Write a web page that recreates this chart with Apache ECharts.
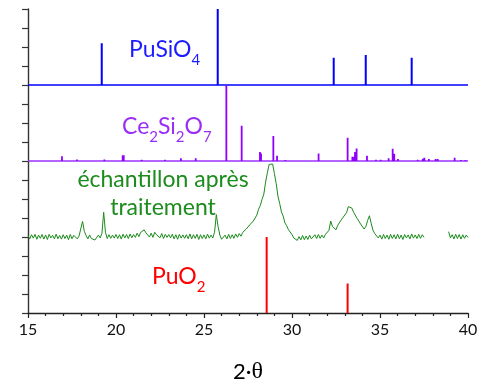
<!DOCTYPE html>
<html>
<head>
<meta charset="utf-8">
<script src="https://cdn.jsdelivr.net/npm/echarts@6/dist/echarts.min.js"></script>
<style>
  html, body { margin: 0; padding: 0; background: #fff; }
  #chart { width: 481px; height: 382px; }
</style>
</head>
<body>
<div id="chart"></div>
<script>
// reference patterns, [2theta, relative intensity] — each phase sits on its own offset
var puSiO4Peaks = [[19.19, 2.2], [25.78, 4.0], [32.37, 1.44], [34.19, 1.58], [36.8, 1.44]]
var ce2Si2O7Peaks = [
  [16.93, 0.25], [17.78, 0.08], [19.34, 0.08], [20.38, 0.3], [20.44, 0.3],
  [21.46, 0.06], [22.78, 0.06], [23.69, 0.15], [24.53, 0.15], [26.27, 4.0],
  [27.14, 1.86], [28.18, 0.47], [28.24, 0.4], [28.94, 1.32], [29.15, 0.28],
  [29.62, 0.05], [31.51, 0.39], [33.16, 1.23], [33.43, 0.23], [33.51, 0.23],
  [33.58, 0.47], [33.67, 0.66], [34.26, 0.28], [34.77, 0.07], [35.04, 0.07],
  [35.49, 0.14], [35.72, 0.65], [35.81, 0.38], [36.02, 0.1], [37.14, 0.07],
  [37.43, 0.12], [37.52, 0.17], [37.78, 0.1], [38.16, 0.1], [38.28, 0.1],
  [39.24, 0.17], [39.6, 0.05], [39.85, 0.05]
]
var puO2Peaks = [[28.56, 4.0], [33.16, 1.55]]

// baselines of the stacked patterns
var puSiO4Base = 12
var ce2Si2O7Base = 8
var puO2Base = 0

// measured pattern, 2theta from 15.0 to 40.0 by 0.1 (null = no data)
var sampleStart = 15.0
var sampleStep = 0.1
var sampleY = [
  4.08, 3.90, 4.12, 3.94, 4.14, 3.88, 4.10, 3.93, 4.13, 3.89,
  4.11, 3.87, 4.14, 3.95, 4.09, 3.90, 4.15, 3.91, 4.08, 3.89,
  4.12, 3.92, 4.10, 3.86, 4.13, 3.91, 4.09, 4.14, 3.90, 4.05,
  4.15, 4.82, 4.30, 4.08, 3.90, 4.11, 3.92, 3.86, 3.84, 3.76,
  4.10, 3.95, 4.18, 5.30, 4.25, 3.92, 4.12, 3.93, 4.10, 3.94,
  4.13, 3.92, 4.12, 3.89, 4.15, 3.95, 4.13, 3.92, 4.16, 3.96,
  4.13, 3.98, 4.20, 4.02, 4.24, 4.15, 4.38, 4.22, 4.28, 4.00,
  4.20, 3.98, 4.25, 4.12, 4.20, 3.96, 4.18, 3.92, 4.14, 3.98,
  4.13, 3.95, 4.15, 3.90, 4.12, 3.88, 4.14, 3.94, 4.11, 3.93,
  4.12, 3.91, 4.16, 3.90, 4.12, 3.93, 4.14, 3.87, 4.12, 3.92,
  4.11, 3.90, 4.15, 3.94, 4.10, 3.95, 4.25, 5.18, 4.55, 4.10,
  3.88, 3.82, 4.10, 3.90, 4.14, 3.92, 4.12, 3.93, 4.16, 3.98,
  4.18, 4.04, 4.24, 4.22, 4.42, 4.38, 4.64, 4.64, 4.84, 4.92,
  5.15, 5.46, 5.66, 5.99, 6.26, 6.89, 7.38, 7.82, 7.92, 7.84,
  7.34, 6.82, 6.16, 5.76, 5.32, 5.10, 4.74, 4.59, 4.38, 4.32,
  4.13, 3.95, 3.90, 3.82, 4.02, 3.85, 4.08, 3.86, 4.05, 3.87,
  4.10, 3.90, 3.86, 4.12, 3.92, 4.13, 3.93, 4.10, 3.95, 4.14,
  4.18, 4.35, 4.84, 4.55, 4.50, 4.38, 4.62, 4.66, 4.90, 4.94,
  5.16, 5.28, 5.60, 5.70, 5.52, 5.30, 5.26, 4.98, 4.92, 4.68,
  4.62, 4.42, 4.56, 4.88, 5.12, 4.72, 4.36, 4.18, 4.08, 3.95,
  4.10, 3.89, 4.13, 3.92, 4.10, 3.88, 4.14, 3.92, 4.12, 3.90,
  4.15, 3.91, 4.10, 3.87, 4.13, 3.95, 4.11, 3.90, 4.16, 3.94,
  4.11, 3.92, 4.14, 3.93, 4.12, 3.98, null, null, null, null,
  null, null, null, null, null, null, null, null, null, 4.28,
  3.95, 4.12, 3.90, 4.14, 3.92, 4.13, 3.89, 4.12, 3.93, 4.10,
  3.98
]

var xTicks = [15, 20, 25, 30, 35, 40]

// vertical sticks, broken with nulls so each peak is its own segment
function sticks(peaks, base) {
  var out = []
  peaks.forEach(function (p) {
    out.push([p[0], base], [p[0], base + p[1]], [p[0], null])
  })
  return out
}

function baseline(base) {
  return [[xTicks[0], base], [xTicks[xTicks.length - 1], base]]
}

var sampleData = sampleY.map(function (y, i) {
  return [+(sampleStart + i * sampleStep).toFixed(2), y]
})

// formula label: big text + lowered subscript
function formulaRich(color, subLH) {
  return {
    a: { fontFamily: 'Lato', fontSize: 23, lineHeight: 36, fill: color },
    s: { fontFamily: 'Lato', fontSize: 15, lineHeight: subLH, verticalAlign: 'bottom', fill: color }
  }
}

var chart = echarts.init(document.getElementById('chart'))

var lineBase = {
  type: 'line',
  showSymbol: false,
  symbol: 'none',
  connectNulls: false,
  animation: false,
  silent: true
}

var option = {
  animation: false,
  grid: { left: 28, right: 13, top: 9, bottom: 69 },
  xAxis: {
    type: 'value',
    min: 15,
    max: 40,
    interval: 5,
    axisLine: { lineStyle: { color: '#222', width: 1.3 } },
    axisTick: { length: 5, lineStyle: { color: '#222', width: 1.2 } },
    minorTick: { show: true, splitNumber: 5, length: 3, lineStyle: { color: '#222', width: 1.2 } },
    splitLine: { show: false },
    axisLabel: {
      margin: 9,
      fontFamily: 'Lato',
      fontSize: 16,
      color: '#111'
    }
  },
  yAxis: {
    type: 'value',
    min: 0,
    max: 16,
    interval: 1,
    axisLine: { show: true, lineStyle: { color: '#333', width: 1.4 } },
    axisTick: { show: true, length: 6, lineStyle: { color: '#333', width: 1.2 } },
    axisLabel: { show: false },
    splitLine: { show: false }
  },
  series: [
    Object.assign({}, lineBase, {
      name: 'PuSiO4 base',
      data: baseline(puSiO4Base),
      lineStyle: { color: '#0000ff', width: 1.4 }
    }),
    Object.assign({}, lineBase, {
      name: 'PuSiO4',
      data: sticks(puSiO4Peaks, puSiO4Base),
      lineStyle: { color: '#0000ff', width: 2 }
    }),
    Object.assign({}, lineBase, {
      name: 'Ce2Si2O7 base',
      data: baseline(ce2Si2O7Base),
      lineStyle: { color: '#9b30ff', width: 1.4 }
    }),
    Object.assign({}, lineBase, {
      name: 'Ce2Si2O7',
      data: sticks(ce2Si2O7Peaks, ce2Si2O7Base),
      lineStyle: { color: '#8f00ff', width: 1.8 }
    }),
    Object.assign({}, lineBase, {
      name: 'echantillon',
      data: sampleData,
      lineStyle: { color: '#1a8a1a', width: 1 }
    }),
    Object.assign({}, lineBase, {
      name: 'PuO2',
      data: sticks(puO2Peaks, puO2Base),
      lineStyle: { color: '#ff0000', width: 2 }
    })
  ],
  graphic: [
    {
      type: 'text',
      x: 129,
      y: 50,
      style: {
        text: '{a|PuSiO}{s|4}',
        textVerticalAlign: 'middle',
        rich: formulaRich('#1c1cff', 8)
      }
    },
    {
      type: 'text',
      x: 122,
      y: 127,
      style: {
        text: '{a|Ce}{s|2}{a|Si}{s|2}{a|O}{s|7}',
        textVerticalAlign: 'middle',
        rich: formulaRich('#9a2ef5', 8)
      }
    },
    {
      type: 'text',
      x: 163,
      y: 194,
      style: {
        text: 'échantillon après\ntraitement',
        fontFamily: 'Lato',
        fontSize: 23,
        lineHeight: 28,
        textAlign: 'center',
        textVerticalAlign: 'middle',
        fill: '#1c8c1c'
      }
    },
    {
      type: 'text',
      x: 152,
      y: 277,
      style: {
        text: '{a|PuO}{s|2}',
        textVerticalAlign: 'middle',
        rich: formulaRich('#ff0000', 10)
      }
    },
    {
      type: 'text',
      x: 248,
      y: 372,
      style: {
        text: '{a|2·}{b|θ}',
        textAlign: 'center',
        textVerticalAlign: 'middle',
        rich: {
          a: { fontFamily: 'Lato', fontSize: 22, lineHeight: 24, fill: '#000' },
          b: { fontFamily: 'Liberation Serif', fontSize: 24, lineHeight: 24, fill: '#000' }
        }
      }
    }
  ]
}

chart.setOption(option)
</script>
</body>
</html>
